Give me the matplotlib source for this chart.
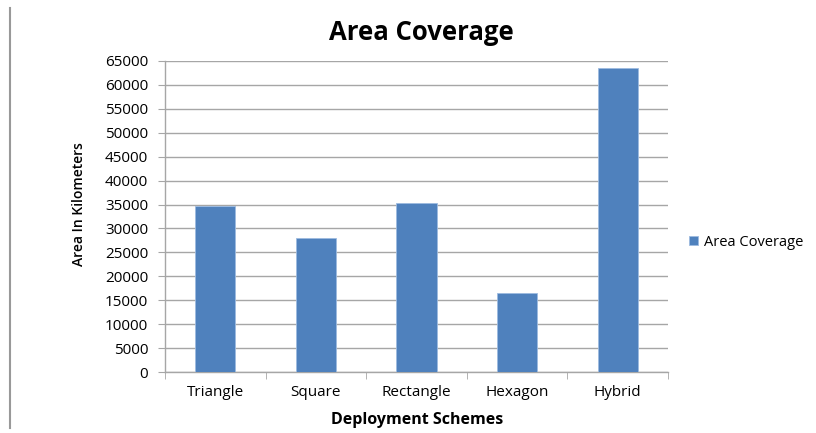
import matplotlib
matplotlib.use("Agg")
import matplotlib.pyplot as plt
import numpy as np

categories = ["Triangle", "Square", "Rectangle", "Hexagon", "Hybrid"]
coverage = [34600, 28000, 35300, 16600, 63600]
y_ticks = list(range(0, 65001, 5000))
series_name = "Area Coverage"

bar_color = "#4f81bd"
grid_color = "#a6a6a6"
FONT = ["Open Sans", "DejaVu Sans"]

fig = plt.figure(figsize=(8.16, 4.33), dpi=100)
W, H = 816, 433
left, right, top, bottom = 165, 668, 61, 372
ax = fig.add_axes([left / W, 1 - bottom / H, (right - left) / W, (bottom - top) / H])

x = np.arange(len(categories))
ax.bar(x, coverage, width=0.4, color=bar_color, edgecolor="#9dbbe0", linewidth=0.6,
       label=series_name, zorder=3)

ax.set_xlim(-0.5, len(categories) - 0.5)
ax.set_ylim(0, 65000)
ax.set_yticks(y_ticks)
ax.set_yticklabels([str(v) for v in y_ticks], fontsize=11, family=FONT)
ax.yaxis.grid(True, color=grid_color, linewidth=1.0, zorder=0)

# category labels centred, tick marks on the boundaries
ax.set_xticks(x)
ax.set_xticklabels(categories, fontsize=11, family=FONT)
ax.tick_params(axis="x", length=0, pad=9)
ax.set_xticks(np.arange(-0.5, len(categories), 1.0), minor=True)
ax.tick_params(axis="x", which="minor", length=5, color=grid_color, direction="out")
ax.tick_params(axis="y", length=5, color=grid_color, pad=7)

for side in ["top", "right"]:
    ax.spines[side].set_visible(False)
for side in ["left", "bottom"]:
    ax.spines[side].set_color(grid_color)
    ax.spines[side].set_linewidth(1.0)

fig.text(421 / W, 1 - 33 / H, "Area Coverage", ha="center", va="center",
         fontsize=18.5, fontweight="bold", family=FONT)
fig.text(417 / W, 1 - 420 / H, "Deployment Schemes", ha="center", va="center",
         fontsize=11.5, fontweight="bold", family=FONT)
fig.text(79 / W, 1 - 204 / H, "Area In Kilometers", ha="center", va="center",
         rotation=90, fontsize=10, fontweight="semibold", family=FONT)

leg = fig.legend(loc="center left", bbox_to_anchor=(676 / W, 1 - 242 / H), frameon=False,
                 prop={"family": FONT, "size": 10.5},
                 handlelength=0.6, handleheight=0.6, handletextpad=0.45)

# border line on the left edge of the frame
fig.add_artist(plt.Line2D([10 / W, 10 / W], [1 - 8 / H, 1 - 428 / H],
                          color="#999999", linewidth=1.5, transform=fig.transFigure))

fig.savefig("out.png", dpi=100)
